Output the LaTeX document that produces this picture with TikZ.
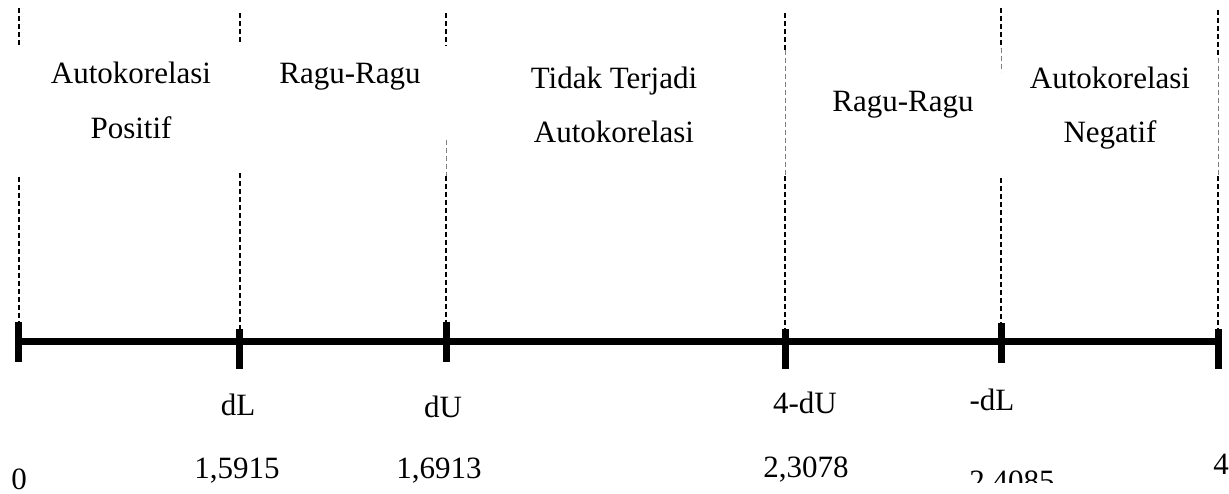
\documentclass[tikz,border=0pt]{standalone}
\usepackage{fontspec}
\setmainfont{Liberation Serif}
\begin{document}
\begin{tikzpicture}[x=1pt,y=-1pt,
  lbl/.style={font=\fontsize{31}{33}\selectfont, inner sep=0pt, anchor=base},
  dsh/.style={line width=2pt, dash pattern=on 5pt off 3pt},
  dthin/.style={line width=0.8pt, black!50, dash pattern=on 5pt off 3pt},
  axis/.style={line width=7pt},
  tickmark/.style={line width=7pt}]
\useasboundingbox (0,0) rectangle (1229,494);
% axis
\coordinate (a0) at (15,341.5);
\coordinate (a1) at (1222,341.5);
\draw[axis] (a0) -- (a1);
% ticks
\foreach \n/\x/\t in {t0/18.5/322, t1/239.5/329, t2/446/322, t3/785/329, t4/1001/323, t5/1218/329}{
  \coordinate (\n top) at (\x,\t);
  \coordinate (\n bot) at (\x,\t+40);
  \draw[tickmark] (\n top) -- (\n bot);
}
% dashed guide lines
\coordinate (g0a) at (18.5,8);   \coordinate (g0b) at (18.5,45);
\coordinate (g0c) at (18.5,177);
\draw[dsh] (g0a) -- (g0b);
\draw[dsh] (g0c) -- (t0top);
\coordinate (g1a) at (239.5,13); \coordinate (g1b) at (239.5,44);
\coordinate (g1c) at (239.5,173);
\draw[dsh] (g1a) -- (g1b);
\draw[dsh] (g1c) -- (t1top);
\coordinate (g2a) at (446,13);   \coordinate (g2b) at (446,46);
\coordinate (g2c) at (446,140);  \coordinate (g2d) at (446,176);
\draw[dsh] (g2a) -- (g2b);
\draw[dthin] (g2c) -- (g2d);
\draw[dsh] (g2d) -- (t2top);
\coordinate (g3a) at (785,13);   \coordinate (g3b) at (785,50);
\coordinate (g3c) at (785,176);
\draw[dsh] (g3a) -- (g3b);
\draw[dthin] (g3b) -- (g3c);
\draw[dsh] (g3c) -- (t3top);
\coordinate (g4a) at (1001,8);   \coordinate (g4b) at (1001,48);
\coordinate (g4c) at (1001,72);  \coordinate (g4d) at (1001,178);
\draw[dsh] (g4a) -- (g4b);
\draw[dthin] (g4b) -- (g4c);
\draw[dsh] (g4d) -- (t4top);
\coordinate (g5a) at (1218,10);  \coordinate (g5b) at (1218,58);
\coordinate (g5c) at (1218,176);
\draw[dsh] (g5a) -- (g5b);
\draw[dthin] (g5b) -- (g5c);
\draw[dsh] (g5c) -- (t5top);
% region labels
\node[lbl] (ap1) at (131,84) {Autokorelasi};
\node[lbl] (ap2) at (131,139) {Positif};
\node[lbl] (rr1) at (350,84) {Ragu-Ragu};
\node[lbl] (tt1) at (614,89) {Tidak Terjadi};
\node[lbl] (tt2) at (614,143) {Autokorelasi};
\node[lbl] (rr2) at (903,112) {Ragu-Ragu};
\node[lbl] (an1) at (1110,89) {Autokorelasi};
\node[lbl] (an2) at (1110,143) {Negatif};
% axis labels
\node[lbl] (ldl) at (238,415) {dL};
\node[lbl] (ldu) at (443,417) {dU};
\node[lbl] (l4du) at (805,413) {4-dU};
\node[lbl] (lmdl) at (992,410) {-dL};
% values
\node[lbl] (v0) at (19,489) {0};
\node[lbl] (v1) at (237,478) {1,5915};
\node[lbl] (v2) at (439,478) {1,6913};
\node[lbl] (v3) at (806,477) {2,3078};
\begin{scope}
  \clip (940,440) rectangle (1080,482);
  \node[lbl] (v4) at (1012,491) {2,4085};
\end{scope}
\node[lbl] (v5) at (1221,474) {4};
\end{tikzpicture}
\end{document}
